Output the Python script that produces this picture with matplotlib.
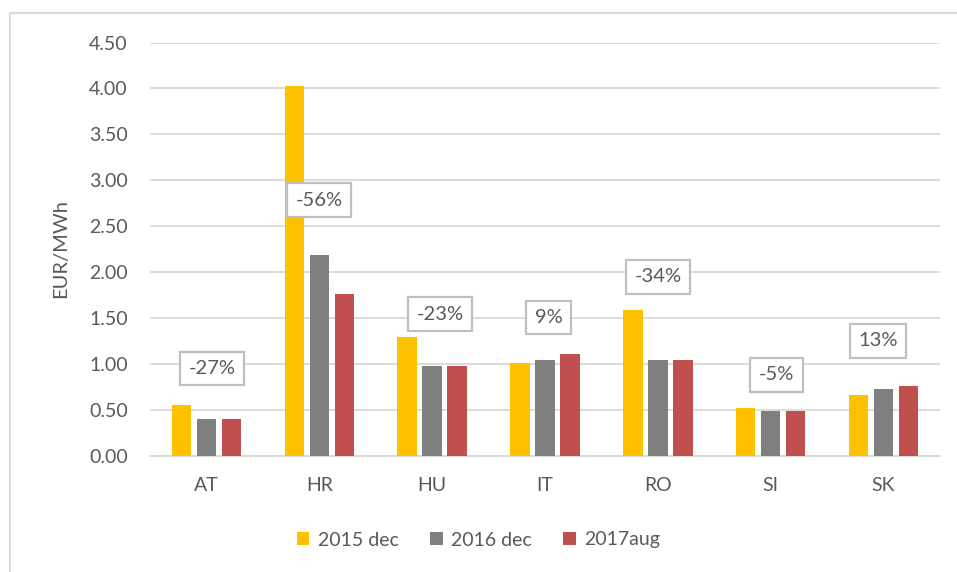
import matplotlib
matplotlib.use("Agg")
import matplotlib.pyplot as plt
from matplotlib.patches import Rectangle, Patch
import numpy as np

plt.rcParams['font.family'] = ['Lato', 'DejaVu Sans']

categories = ["AT", "HR", "HU", "IT", "RO", "SI", "SK"]
series_names = ["2015 dec", "2016 dec", "2017aug"]
v2015 = [0.55, 4.03, 1.29, 1.01, 1.59, 0.52, 0.66]
v2016 = [0.40, 2.19, 0.98, 1.04, 1.04, 0.49, 0.73]
v2017 = [0.40, 1.76, 0.98, 1.11, 1.04, 0.49, 0.76]
change_labels = ["-27%", "-56%", "-23%", "9%", "-34%", "-5%", "13%"]
label_y = [0.95, 2.78, 1.54, 1.505, 1.95, 0.88, 1.25]
label_dx = [0.05, 0.0, 0.07, 0.03, 0.0, 0.05, -0.05]
yticks = [0.0, 0.5, 1.0, 1.5, 2.0, 2.5, 3.0, 3.5, 4.0, 4.5]
colors = ["#FFC000", "#7F7F7F", "#C0504D"]

W, H = 957, 572
fig = plt.figure(figsize=(W / 100, H / 100), dpi=100)
ax = fig.add_axes([150 / W, 1 - 455.7 / H, (940 - 150) / W, (455.7 - 42.5) / H])

x = np.arange(len(categories))
bw = 0.172
off = 0.222
for i, vals in enumerate([v2015, v2016, v2017]):
    ax.bar(x + (i - 1) * off, vals, width=bw, color=colors[i], zorder=3,
           label=series_names[i])

ax.set_xlim(-0.5, len(categories) - 0.5)
ax.set_ylim(0, 4.5)
ax.set_yticks(yticks)
ax.set_yticklabels([f"{t:.2f}" for t in yticks])
ax.set_xticks(x)
ax.set_xticklabels(categories)
ax.grid(axis='y', color="#D9D9D9", linewidth=1.3, zorder=0)
ax.set_axisbelow(True)
for s in ["top", "right", "left"]:
    ax.spines[s].set_visible(False)
ax.spines["bottom"].set_color("#D9D9D9")
ax.spines["bottom"].set_linewidth(1.3)
ax.tick_params(axis='both', length=0, labelsize=14, colors="#595959")
ax.tick_params(axis='y', pad=16)
ax.tick_params(axis='x', pad=15)

fig.text(61 / W, 1 - 249 / H, "EUR/MWh", rotation=90, ha='center', va='center',
         fontsize=14.5, color="#595959")

for xi, lab, ly, dx in zip(x, change_labels, label_y, label_dx):
    ax.text(xi + dx, ly, lab, ha='center', va='center', fontsize=14.5, color="#595959",
            zorder=5,
            bbox=dict(boxstyle="square,pad=0.42", facecolor="white",
                      edgecolor="#BFBFBF", linewidth=1.6))

handles = [Patch(facecolor=c, edgecolor='none') for c in colors]
fig.legend(handles, series_names, loc='center', bbox_to_anchor=(0.5, 1 - 540 / H),
           ncol=3, frameon=False, fontsize=14, labelcolor="#595959",
           handlelength=0.65, handleheight=0.65, handletextpad=0.45, columnspacing=1.6)

fig.patches.append(Rectangle((10 / W, -0.05), 1.0, 1 - 13 / H + 0.05,
                             transform=fig.transFigure, fill=False,
                             edgecolor="#D9D9D9", linewidth=1.5))

fig.savefig("out.png", dpi=100)
